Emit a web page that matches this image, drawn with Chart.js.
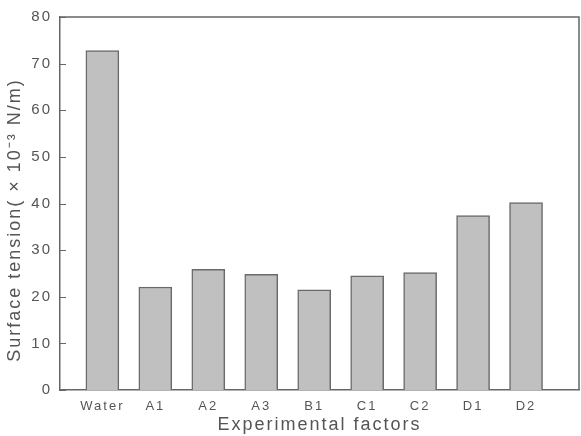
<!DOCTYPE html>
<html>
<head>
<meta charset="utf-8">
<script src="https://cdn.jsdelivr.net/npm/chart.js@4.4.1/dist/chart.umd.min.js"></script>
<style>
  html, body { margin: 0; padding: 0; background: #fff; }
  #wrap { width: 581px; height: 436px; }
</style>
</head>
<body>
<div id="wrap"><canvas id="tensionChart" width="581" height="436"></canvas></div>
<script>
// data
const factors = ['Water', 'A1', 'A2', 'A3', 'B1', 'C1', 'C2', 'D1', 'D2'];
const tension = [72.8, 22.1, 25.9, 24.8, 21.5, 24.5, 25.2, 37.4, 40.2];
const yTicks = [0, 10, 20, 30, 40, 50, 60, 70, 80];
const yTitle = 'Surface tension( \u00d7 10\u207b\u00b3 N/m)';

const axisColor = '#666666';
const textColor = '#555555';

// the original type is spread out a bit
const spacingPlugin = {
    id: 'spacing',
    beforeLayout(chart) { chart.ctx.letterSpacing = '2px'; },
    beforeDraw(chart) { chart.ctx.letterSpacing = '2px'; }
};

// frame on top/right, inward y ticks, y title
const framePlugin = {
    id: 'frame',
    afterDraw(chart) {
        const ctx = chart.ctx;
        const a = chart.chartArea;
        const y = chart.scales.y;
        ctx.save();
        ctx.strokeStyle = axisColor;
        ctx.lineWidth = 1.5;
        ctx.beginPath();
        ctx.moveTo(a.left, a.top);
        ctx.lineTo(a.right, a.top);
        ctx.lineTo(a.right, a.bottom);
        ctx.stroke();
        ctx.lineWidth = 1;
        yTicks.forEach(v => {
            const py = Math.round(y.getPixelForValue(v)) + 0.5;
            ctx.beginPath();
            ctx.moveTo(a.left, py);
            ctx.lineTo(a.left + 6, py);
            ctx.stroke();
        });
        ctx.translate(15, 220);
        ctx.rotate(-Math.PI / 2);
        ctx.fillStyle = textColor;
        ctx.font = '18px "Liberation Sans"';
        ctx.textAlign = 'center';
        ctx.textBaseline = 'middle';
        ctx.letterSpacing = '2px';
        ctx.fillText(yTitle, 0, 0);
        ctx.restore();
    }
};

new Chart(document.getElementById('tensionChart'), {
    type: 'bar',
    data: {
        datasets: [{
            data: factors.map((f, i) => ({ x: i, y: tension[i] })),
            backgroundColor: '#c0c0c0',
            borderColor: '#6a6a6a',
            borderWidth: 1.5,
            barThickness: 33
        }]
    },
    options: {
        responsive: false,
        animation: false,
        layout: { padding: { top: 17, right: 2, left: 0, bottom: 0 } },
        plugins: { legend: { display: false }, tooltip: { enabled: false } },
        scales: {
            x: {
                type: 'linear',
                offset: false,
                min: -0.8,
                max: 9,
                afterBuildTicks: s => { s.ticks = factors.map((f, i) => ({ value: i })); },
                afterFit: s => { s.height = 46; },
                grid: { display: false, drawTicks: false },
                border: { display: true, color: axisColor, width: 1.5 },
                ticks: {
                    autoSkip: false,
                    maxRotation: 0,
                    padding: 9,
                    color: textColor,
                    font: { family: 'Liberation Sans', size: 13 },
                    callback: v => factors[v] ?? ''
                },
                title: {
                    display: true,
                    text: 'Experimental factors',
                    color: textColor,
                    font: { family: 'Liberation Sans', size: 18 },
                    padding: { top: 7, bottom: 0 }
                }
            },
            y: {
                min: 0,
                max: 80,
                afterBuildTicks: s => { s.ticks = yTicks.map(v => ({ value: v })); },
                afterFit: s => { s.width = 60; },
                grid: { display: false, drawTicks: false },
                border: { display: true, color: axisColor, width: 1.5 },
                ticks: {
                    padding: 8,
                    color: textColor,
                    font: { family: 'Liberation Sans', size: 15 }
                },
                title: { display: false }
            }
        }
    },
    plugins: [spacingPlugin, framePlugin]
});
</script>
</body>
</html>
